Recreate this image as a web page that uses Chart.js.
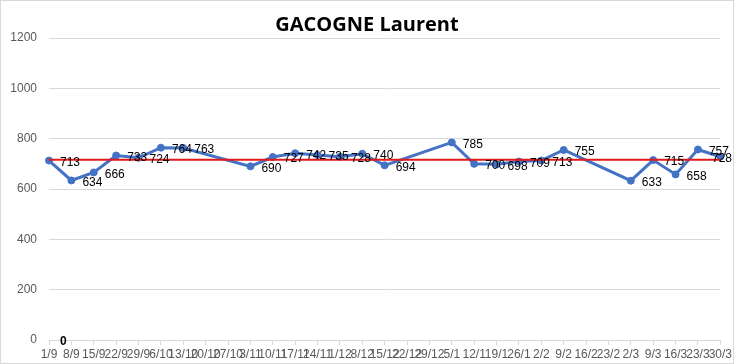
<!DOCTYPE html>
<html>
<head>
<meta charset="utf-8">
<script src="https://cdn.jsdelivr.net/npm/chart.js@4/dist/chart.umd.min.js"></script>
<style>
  html, body { margin: 0; padding: 0; background: #fff; }
  #wrap { width: 734px; height: 364px; position: relative; }
</style>
</head>
<body>
<div id="wrap"><canvas id="chart" width="734" height="364"></canvas></div>
<script>
// weekly dates (x axis)
const weeks = ["1/9", "8/9", "15/9", "22/9", "29/9", "6/10", "13/10", "20/10", "27/10", "3/11",
  "10/11", "17/11", "24/11", "1/12", "8/12", "15/12", "22/12", "29/12", "5/1", "12/1",
  "19/1", "26/1", "2/2", "9/2", "16/2", "23/2", "2/3", "9/3", "16/3", "23/3", "30/3"]

// weekly values, null where no value
const weekValues = [713, 634, 666, 733, 724, 764, 763, null, null, 690,
  727, 742, 735, 728, 740, 694, null, null, 785, 700,
  698, 709, 713, 755, null, null, 633, 715, 658, 757, 728]

// average line (red)
const averageValues = [716, 716, 716, 716, 716, 716, 716, 716, 716, 716,
  716, 716, 716, 716, 716, 716, 716, 716, 716, 716,
  716, 716, 716, 716, 716, 716, 716, 716, 716, 716, 716]

// lone "0" label sitting on the axis
const zeroValues = [0, null, null, null, null, null, null, null, null, null,
  null, null, null, null, null, null, null, null, null, null,
  null, null, null, null, null, null, null, null, null, null, null]

const yTicks = [0, 200, 400, 600, 800, 1000, 1200]

const chartTitle = "GACOGNE Laurent"

// draws value labels to the right of each point
const pointLabels = {
  id: "pointLabels",
  afterDatasetsDraw(chart) {
    const ctx = chart.ctx
    ctx.save()
    ctx.textAlign = "left"
    ctx.textBaseline = "middle"
    chart.data.datasets.forEach((ds, i) => {
      if (!ds.showLabels) return
      const meta = chart.getDatasetMeta(i)
      ctx.font = (ds.labelBold ? "bold " : "") + "12px 'Liberation Sans', Arial, sans-serif"
      ctx.fillStyle = "#000"
      meta.data.forEach((pt, j) => {
        const v = ds.data[j]
        if (v === null || v === undefined) return
        const text = String(v)
        const w = ctx.measureText(text).width
        // keep the label inside the picture, like the original does
        const x = Math.min(pt.x + 11, chart.width - 2 - w)
        ctx.fillText(text, x, pt.y + 2)
      })
    })
    ctx.restore()
  },
}

// white background, title centred on the whole picture, thin outer border
const frame = {
  id: "frame",
  beforeDraw(chart) {
    const ctx = chart.ctx
    ctx.save()
    ctx.fillStyle = "#fff"
    ctx.fillRect(0, 0, chart.width, chart.height)
    ctx.restore()
  },
  afterDraw(chart) {
    const ctx = chart.ctx
    ctx.save()
    ctx.fillStyle = "#000"
    ctx.font = "bold 20px 'Open Sans', sans-serif"
    ctx.textAlign = "center"
    ctx.textBaseline = "middle"
    ctx.fillText(chartTitle, chart.width / 2, 25)
    ctx.strokeStyle = "#d9d9d9"
    ctx.lineWidth = 1
    ctx.strokeRect(0.5, 0.5, chart.width - 1, chart.height - 1)
    ctx.restore()
  },
}

new Chart(document.getElementById("chart"), {
  type: "line",
  data: {
    labels: weeks,
    datasets: [
      {
        label: "Laurent",
        data: weekValues,
        borderColor: "#4472c4",
        backgroundColor: "#4472c4",
        borderWidth: 3,
        pointRadius: 3.5,
        pointBorderWidth: 1,
        pointBackgroundColor: "#4472c4",
        tension: 0,
        spanGaps: true,
        showLabels: true,
        order: 2,
      },
      {
        label: "Moyenne",
        data: averageValues,
        borderColor: "#e31a1c",
        borderWidth: 2,
        pointRadius: 0,
        tension: 0,
        order: 1,
      },
      {
        label: "zero",
        data: zeroValues,
        borderColor: "rgba(0,0,0,0)",
        pointRadius: 0,
        showLabels: true,
        labelBold: true,
        order: 3,
      },
    ],
  },
  options: {
    responsive: false,
    animation: false,
    events: [],
    layout: { padding: { left: 0, right: 13, top: 38, bottom: 0 } },
    plugins: {
      legend: { display: false },
      tooltip: { enabled: false },
      title: { display: false },
    },
    scales: {
      x: {
        offset: false,
        afterFit: (scale) => { scale.height = 24 },
        grid: { drawOnChartArea: false, drawTicks: true, tickLength: 5, color: "#d9d9d9" },
        border: { display: true, color: "#d9d9d9" },
        ticks: {
          autoSkip: false,
          maxRotation: 0,
          minRotation: 0,
          padding: 2,
          color: "#595959",
          font: { family: "'Liberation Sans', Arial, sans-serif", size: 12 },
        },
      },
      y: {
        min: 0,
        max: 1200,
        afterFit: (scale) => { scale.width = 49 },
        afterBuildTicks: (scale) => { scale.ticks = yTicks.map((v) => ({ value: v })) },
        grid: { color: "#d9d9d9", drawTicks: false },
        border: { display: false },
        ticks: {
          padding: 12,
          color: "#595959",
          font: { family: "'Liberation Sans', Arial, sans-serif", size: 12 },
          callback: (value) => String(value),
        },
      },
    },
  },
  plugins: [frame, pointLabels],
})
</script>
</body>
</html>
